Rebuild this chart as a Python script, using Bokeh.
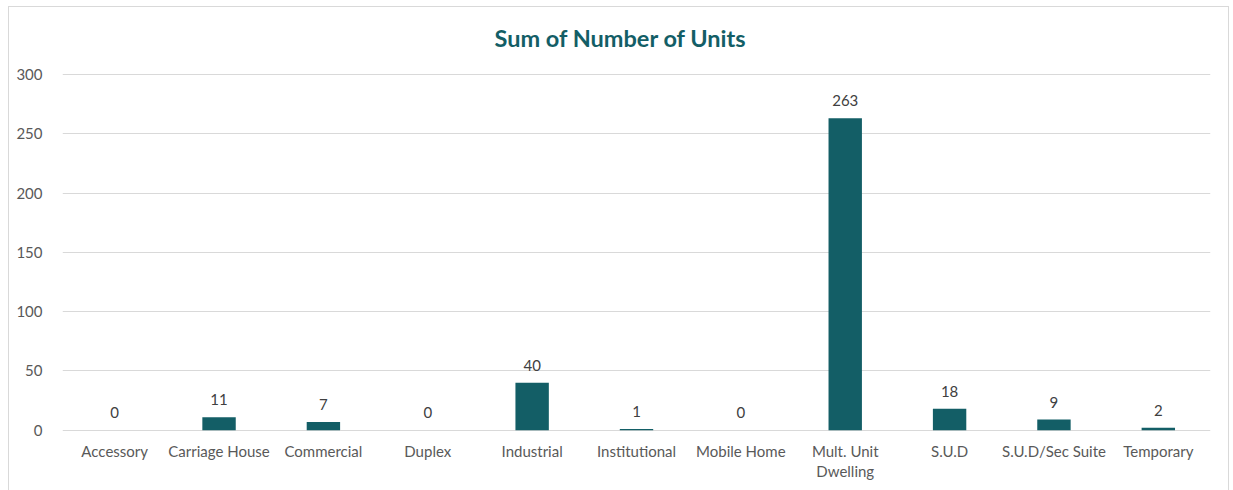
from bokeh.plotting import figure
from bokeh.models import ColumnDataSource, FactorRange, Range1d, FixedTicker
from bokeh.embed import file_html
from bokeh.resources import INLINE
from bokeh.core.properties import value

categories = ["Accessory", "Carriage House", "Commercial", "Duplex", "Industrial",
              "Institutional", "Mobile Home", "Mult. Unit Dwelling", "S.U.D",
              "S.U.D/Sec Suite", "Temporary"]
category_labels = ["Accessory", "Carriage House", "Commercial", "Duplex", "Industrial",
                   "Institutional", "Mobile Home", "Mult. Unit\nDwelling", "S.U.D",
                   "S.U.D/Sec Suite", "Temporary"]
units = [0, 11, 7, 0, 40, 1, 0, 263, 18, 9, 2]
y_ticks = [0, 50, 100, 150, 200, 250, 300]
title_text = "Sum of Number of Units"

TEAL = "#135E66"
FONT = "Lato"

src = ColumnDataSource(dict(cat=categories, val=units, lab=[str(v) for v in units],
                            xlab=category_labels, zero=[0] * len(categories)))

p = figure(x_range=FactorRange(*categories, range_padding=0), y_range=Range1d(-50, 306.7),
           width=1221, height=487, output_backend="svg", toolbar_location=None,
           min_border_left=53, min_border_right=20, min_border_top=59, min_border_bottom=5,
           title=title_text)
p.styles = {"border": "1px solid #D9D9D9", "margin-left": "8px", "margin-top": "6px"}
p.outline_line_color = None

p.title.align = "left"
p.title.offset = 432
p.title.standoff = 29
p.title.text_font = FONT
p.title.text_font_size = "23.5px"
p.title.text_font_style = "bold"
p.title.text_color = TEAL

p.vbar(x="cat", top="val", width=0.32, source=src, fill_color=TEAL, line_color=None)
p.text(x="cat", y="val", text="lab", source=src, text_align="center", text_baseline="bottom",
       y_offset=-12, text_font=value(FONT), text_font_size="15px", text_color="#404040")
p.text(x="cat", y="zero", text="xlab", source=src, text_align="center", text_baseline="top",
       y_offset=12, text_font=value(FONT), text_font_size="15px", text_color="#595959",
       text_line_height=1.1)

p.xgrid.grid_line_color = None
p.ygrid.grid_line_color = "#D9D9D9"
p.ygrid.grid_line_width = 1

p.yaxis.ticker = FixedTicker(ticks=y_ticks)
p.yaxis.axis_line_color = None
p.yaxis.major_tick_line_color = None
p.yaxis.minor_tick_line_color = None
p.yaxis.major_label_text_font = FONT
p.yaxis.major_label_text_font_size = "15px"
p.yaxis.major_label_text_color = "#595959"
p.yaxis.major_label_standoff = 14
p.xaxis.visible = False

open("out.html", "w").write(file_html(p, INLINE))
